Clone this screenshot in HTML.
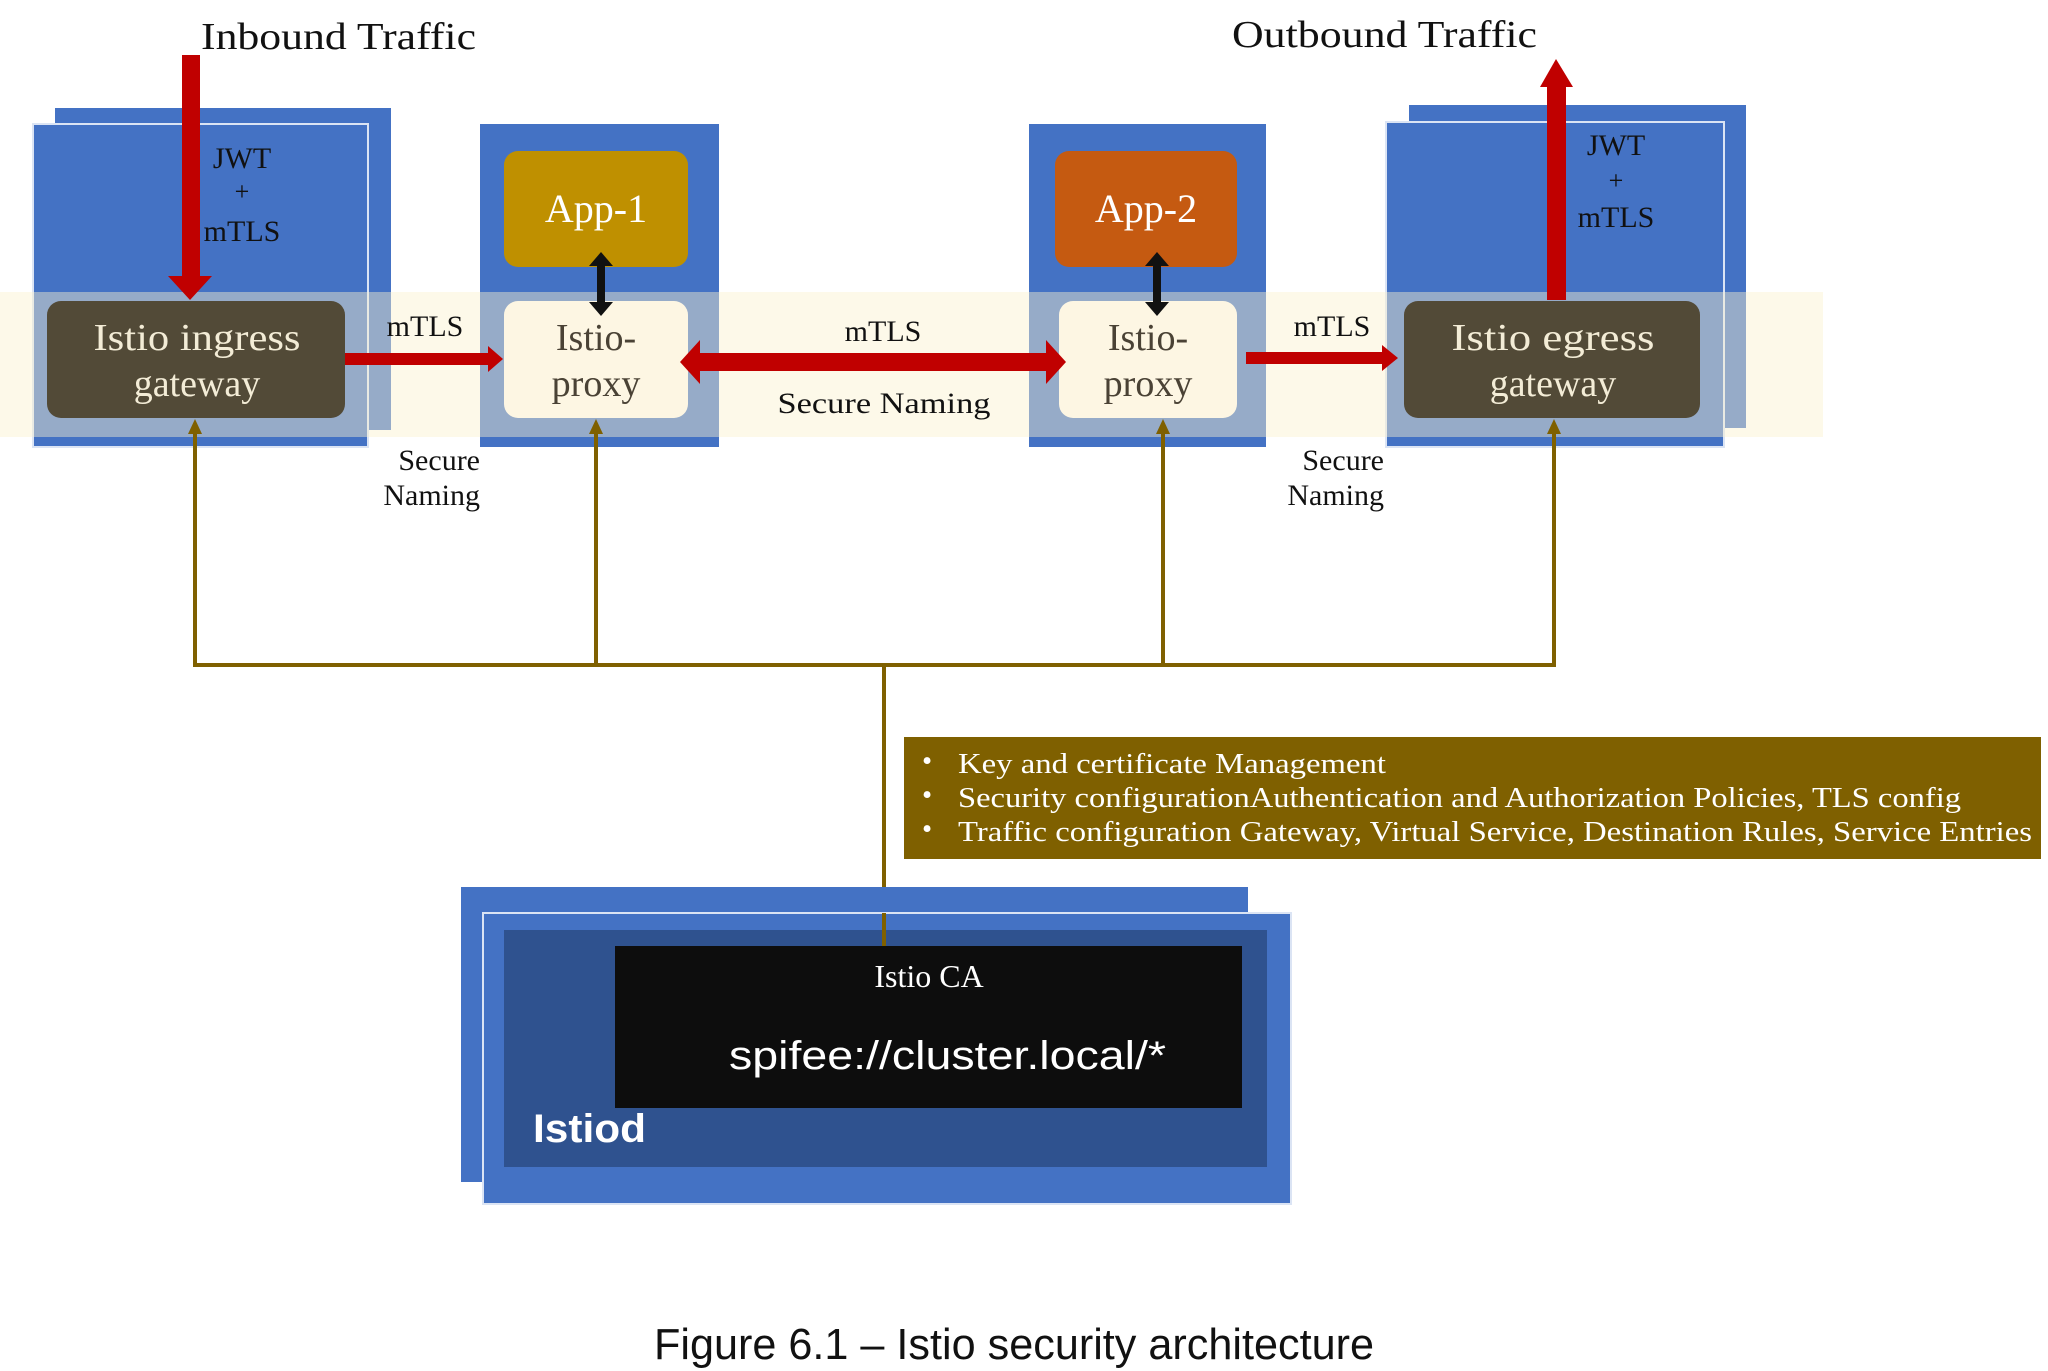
<!DOCTYPE html>
<html><head><meta charset="utf-8"><style>
html,body{margin:0;padding:0;background:#fff;}
svg{display:block;}
</style></head><body>
<svg width="2048" height="1371" viewBox="0 0 2048 1371" xmlns="http://www.w3.org/2000/svg">
<!-- ingress containers -->
<rect x="55" y="108" width="336" height="322" fill="#4472c4"/>
<rect x="33" y="124" width="335" height="323" fill="#4472c4" stroke="#dbe4f4" stroke-width="2"/>
<!-- app1 container -->
<rect x="480" y="124" width="239" height="323" fill="#4472c4"/>
<!-- app2 container -->
<rect x="1029" y="124" width="237" height="323" fill="#4472c4"/>
<!-- egress containers -->
<rect x="1409" y="105" width="337" height="323" fill="#4472c4"/>
<rect x="1386" y="122" width="338" height="325" fill="#4472c4" stroke="#dbe4f4" stroke-width="2"/>
<!-- band -->
<rect x="0" y="292" width="1823" height="145" fill="#fbf1cf" fill-opacity="0.45"/>
<!-- gateways -->
<rect x="47" y="301" width="298" height="117" rx="14" fill="#524a37"/>
<text x="197" y="350" font-family="Liberation Serif, serif" font-size="38" fill="#f3ecd6" text-anchor="middle" textLength="207" lengthAdjust="spacingAndGlyphs">Istio ingress</text>
<text x="197" y="396" font-family="Liberation Serif, serif" font-size="38" fill="#f3ecd6" text-anchor="middle">gateway</text>
<rect x="1404" y="301" width="296" height="117" rx="14" fill="#524a37"/>
<text x="1553" y="350" font-family="Liberation Serif, serif" font-size="38" fill="#f3ecd6" text-anchor="middle" textLength="203" lengthAdjust="spacingAndGlyphs">Istio egress</text>
<text x="1553" y="396" font-family="Liberation Serif, serif" font-size="38" fill="#f3ecd6" text-anchor="middle">gateway</text>
<!-- apps -->
<rect x="504" y="151" width="184" height="116" rx="14" fill="#bf9000"/>
<text x="596" y="222" font-family="Liberation Serif, serif" font-size="40" fill="#fff" text-anchor="middle">App-1</text>
<rect x="1055" y="151" width="182" height="116" rx="14" fill="#c55a11"/>
<text x="1146" y="222" font-family="Liberation Serif, serif" font-size="40" fill="#fff" text-anchor="middle">App-2</text>
<!-- proxies -->
<rect x="504" y="301" width="184" height="117" rx="14" fill="#fdf6e3"/>
<text x="596" y="350" font-family="Liberation Serif, serif" font-size="38" fill="#4a4235" text-anchor="middle">Istio-</text>
<text x="596" y="396" font-family="Liberation Serif, serif" font-size="38" fill="#4a4235" text-anchor="middle">proxy</text>
<rect x="1059" y="301" width="178" height="117" rx="14" fill="#fdf6e3"/>
<text x="1148" y="350" font-family="Liberation Serif, serif" font-size="38" fill="#4a4235" text-anchor="middle">Istio-</text>
<text x="1148" y="396" font-family="Liberation Serif, serif" font-size="38" fill="#4a4235" text-anchor="middle">proxy</text>
<!-- black double arrows -->
<g fill="#111">
<rect x="597" y="262" width="8" height="44"/>
<path d="M589,266 L601,252 L613,266 z"/><path d="M589,302 L601,316 L613,302 z"/>
<rect x="1153" y="262" width="8" height="44"/>
<path d="M1145,266 L1157,252 L1169,266 z"/><path d="M1145,302 L1157,316 L1169,302 z"/>
</g>
<!-- red arrows -->
<g fill="#c00000">
<rect x="182" y="55" width="18" height="225"/>
<path d="M168,276 L212,276 L190,300 z"/>
<rect x="345" y="353" width="145" height="12"/>
<path d="M488,346 L503,359 L488,372 z"/>
<rect x="695" y="353" width="356" height="18"/>
<path d="M700,340 L680,362 L700,384 z"/><path d="M1046,340 L1066,362 L1046,384 z"/>
<rect x="1246" y="352" width="138" height="12"/>
<path d="M1382,345 L1398,358 L1382,371 z"/>
<rect x="1547" y="82" width="19" height="218"/>
<path d="M1540,87 L1573,87 L1556,59 z"/>
</g>
<!-- labels -->
<g font-family="Liberation Serif, serif" fill="#111">
<text x="201" y="49" font-size="38" textLength="275" lengthAdjust="spacingAndGlyphs">Inbound Traffic</text>
<text x="1232" y="47" font-size="38" textLength="305" lengthAdjust="spacingAndGlyphs">Outbound Traffic</text>
<text x="242" y="168" font-size="30" text-anchor="middle">JWT</text>
<text x="242" y="200" font-size="26" text-anchor="middle">+</text>
<text x="242" y="241" font-size="30" text-anchor="middle">mTLS</text>
<text x="1616" y="155" font-size="30" text-anchor="middle">JWT</text>
<text x="1616" y="189" font-size="26" text-anchor="middle">+</text>
<text x="1616" y="227" font-size="30" text-anchor="middle">mTLS</text>
<text x="425" y="336" font-size="30" text-anchor="middle">mTLS</text>
<text x="883" y="341" font-size="30" text-anchor="middle">mTLS</text>
<text x="884" y="413" font-size="30" text-anchor="middle" textLength="213" lengthAdjust="spacingAndGlyphs">Secure  Naming</text>
<text x="1332" y="336" font-size="30" text-anchor="middle">mTLS</text>
<text x="480" y="470" font-size="30" text-anchor="end">Secure</text>
<text x="480" y="505" font-size="30" text-anchor="end">Naming</text>
<text x="1384" y="470" font-size="30" text-anchor="end">Secure</text>
<text x="1384" y="505" font-size="30" text-anchor="end">Naming</text>
</g>
<!-- brown connectors -->
<g stroke="#7f6000" stroke-width="4" fill="none">
<polyline points="195,432 195,665 1554,665 1554,432"/>
<line x1="596" y1="665" x2="596" y2="432"/>
<line x1="1163" y1="665" x2="1163" y2="432"/>
<line x1="884" y1="665" x2="884" y2="946"/>
</g>
<g fill="#7f6000">
<path d="M188,434 L195,419 L202,434 z"/><path d="M589,434 L596,419 L603,434 z"/>
<path d="M1156,434 L1163,419 L1170,434 z"/><path d="M1547,434 L1554,419 L1561,434 z"/>
</g>
<!-- info box -->
<rect x="904" y="737" width="1137" height="122" fill="#7f6000"/>
<g font-family="Liberation Serif, serif" font-size="29" fill="#fff">
<text x="922" y="770">•</text><text x="922" y="804">•</text><text x="922" y="838">•</text>
<text x="958" y="773" textLength="428" lengthAdjust="spacingAndGlyphs">Key and certificate Management</text>
<text x="958" y="807" textLength="1003" lengthAdjust="spacingAndGlyphs">Security configurationAuthentication and Authorization Policies, TLS config</text>
<text x="958" y="841" textLength="1074" lengthAdjust="spacingAndGlyphs">Traffic configuration Gateway, Virtual Service, Destination Rules, Service Entries</text>
</g>
<!-- istiod -->
<rect x="461" y="887" width="787" height="295" fill="#4472c4"/>
<rect x="483" y="913" width="808" height="291" fill="#4472c4" stroke="#dbe4f4" stroke-width="2"/>
<rect x="504" y="930" width="763" height="237" fill="#2f528f"/>
<rect x="615" y="946" width="627" height="162" fill="#0d0d0d"/>
<line x1="884" y1="913" x2="884" y2="946" stroke="#7f6000" stroke-width="4"/>
<text x="929" y="987" font-family="Liberation Serif, serif" font-size="32" fill="#fff" text-anchor="middle">Istio CA</text>
<text x="729" y="1069" font-family="Liberation Sans, sans-serif" font-size="40" fill="#fff" textLength="437" lengthAdjust="spacingAndGlyphs">spifee://cluster.local/*</text>
<text x="533" y="1142" font-family="Liberation Sans, sans-serif" font-size="40" font-weight="bold" fill="#fff" textLength="113" lengthAdjust="spacingAndGlyphs">Istiod</text>
<!-- caption -->
<text x="654" y="1359" font-family="Liberation Sans, sans-serif" font-size="44" fill="#111" textLength="720" lengthAdjust="spacingAndGlyphs">Figure 6.1 – Istio security architecture</text>
</svg>
</body></html>
